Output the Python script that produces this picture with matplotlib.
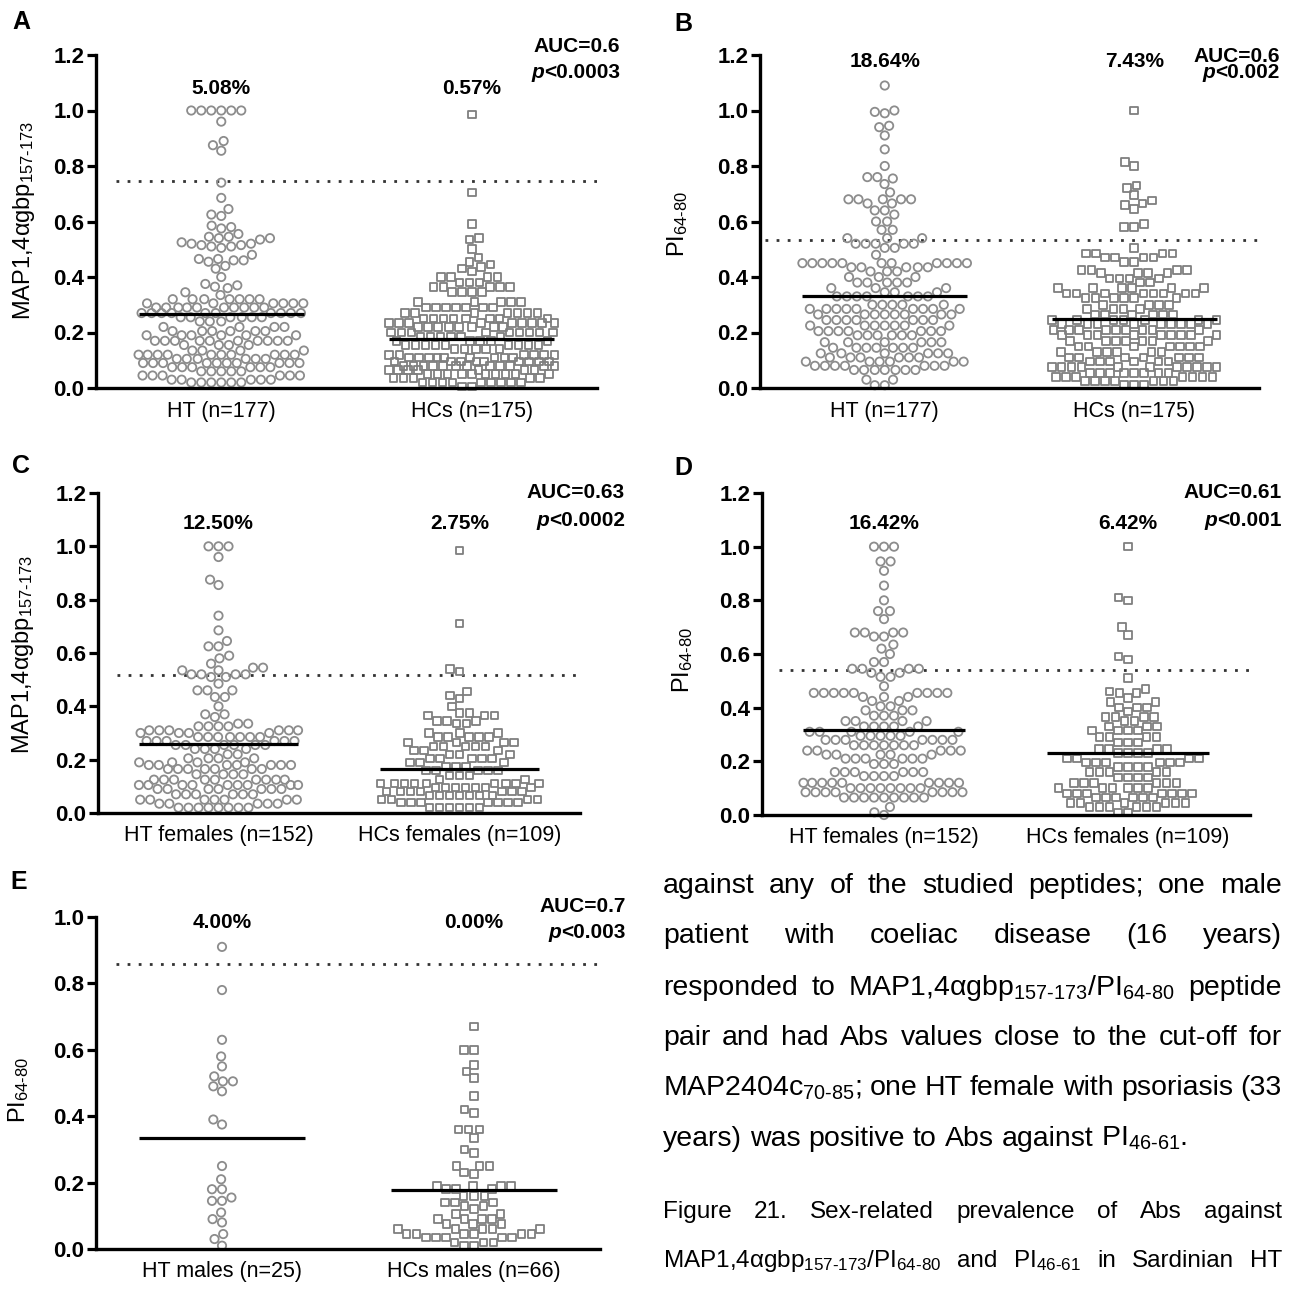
import numpy as np
import matplotlib.pyplot as plt

plt.rcParams['font.family'] = ['Liberation Sans', 'DejaVu Sans']
plt.rcParams['mathtext.fontset'] = 'custom'
plt.rcParams['mathtext.rm'] = 'Liberation Sans'
plt.rcParams['mathtext.it'] = 'Liberation Sans:italic'
plt.rcParams['mathtext.bf'] = 'Liberation Sans:bold'

W, H = 1294, 1290

# ---------------- values ----------------
# panel A : MAP1,4agbp157-173, all subjects
a_ht = [1.0, 1.0, 1.0, 1.0, 1.0, 1.0,
        0.96, 0.89, 0.875, 0.855, 0.74, 0.685, 0.645, 0.625, 0.62, 0.585, 0.58, 0.575,
        0.555, 0.545, 0.545, 0.54, 0.54, 0.535,
        0.525, 0.52, 0.52, 0.515, 0.515, 0.51, 0.51, 0.505,
        0.48, 0.465, 0.465, 0.46, 0.46, 0.455, 0.44, 0.43, 0.40,
        0.375, 0.37, 0.365, 0.36, 0.345, 0.335,
        0.32, 0.32, 0.32, 0.32, 0.32, 0.32, 0.32,
        0.305, 0.305, 0.305, 0.305, 0.305, 0.305,
        0.29, 0.29, 0.29, 0.29, 0.29, 0.29, 0.29, 0.29, 0.29, 0.29,
        0.27, 0.27, 0.27, 0.27, 0.27, 0.27, 0.27, 0.27, 0.27, 0.27,
        0.255, 0.255, 0.255, 0.255, 0.255, 0.255,
        0.24, 0.24, 0.24, 0.22, 0.22, 0.22, 0.22,
        0.205, 0.205, 0.205, 0.205, 0.205, 0.205,
        0.19, 0.19, 0.19, 0.19, 0.19, 0.19,
        0.17, 0.17, 0.17, 0.17, 0.17, 0.17, 0.17, 0.17, 0.17, 0.17,
        0.155, 0.155, 0.155, 0.155, 0.135, 0.135, 0.135, 0.135,
        0.12, 0.12, 0.12, 0.12, 0.12, 0.12, 0.12, 0.12, 0.12, 0.12,
        0.105, 0.105, 0.105, 0.105, 0.105, 0.105,
        0.09, 0.09, 0.09, 0.09, 0.09, 0.09, 0.09, 0.09, 0.09, 0.09,
        0.075, 0.075, 0.075, 0.075, 0.075, 0.075,
        0.06, 0.06, 0.06, 0.06, 0.06,
        0.045, 0.045, 0.045, 0.045, 0.045, 0.045,
        0.03, 0.03, 0.03, 0.03, 0.03,
        0.02, 0.02, 0.02, 0.02, 0.02, 0.02]
a_hc = [0.985, 0.705, 0.59, 0.54, 0.535, 0.50, 0.47, 0.455, 0.445, 0.435, 0.43, 0.42,
        0.40, 0.40, 0.40, 0.40, 0.38, 0.38, 0.38,
        0.365, 0.365, 0.365, 0.365, 0.365, 0.345, 0.345, 0.345, 0.345,
        0.31, 0.31, 0.31, 0.31, 0.31,
        0.29, 0.29, 0.29, 0.29, 0.29, 0.29, 0.29,
        0.27, 0.27, 0.27, 0.27, 0.27, 0.27, 0.27,
        0.25, 0.25, 0.25, 0.25, 0.25, 0.25, 0.25, 0.25,
        0.235, 0.235, 0.235, 0.235, 0.235, 0.235, 0.235, 0.235, 0.235,
        0.22, 0.22, 0.22, 0.22, 0.22, 0.22, 0.22, 0.22,
        0.20, 0.20, 0.20, 0.20, 0.20, 0.20, 0.20, 0.20, 0.20,
        0.185, 0.185, 0.185, 0.185, 0.185, 0.185,
        0.17, 0.17, 0.17, 0.17, 0.17,
        0.155, 0.155, 0.155, 0.155, 0.155, 0.155, 0.155, 0.155, 0.155,
        0.14, 0.14, 0.14, 0.14, 0.14,
        0.12, 0.12, 0.12, 0.12, 0.12, 0.12,
        0.11, 0.11, 0.11, 0.11, 0.11, 0.11, 0.11, 0.11, 0.11,
        0.095, 0.095, 0.095, 0.095, 0.095, 0.095, 0.095, 0.095, 0.095,
        0.08, 0.08, 0.08, 0.08, 0.08, 0.08, 0.08, 0.08, 0.08, 0.08, 0.08, 0.08,
        0.065, 0.065, 0.065, 0.065, 0.065, 0.065, 0.065,
        0.05, 0.05, 0.05, 0.05, 0.05, 0.05, 0.05, 0.05, 0.05, 0.05,
        0.035, 0.035, 0.035, 0.035, 0.035,
        0.02, 0.02, 0.02, 0.02, 0.02, 0.02, 0.02, 0.02, 0.02,
        0.005, 0.005]

# panel B : PI64-80, all subjects
b_ht = [1.09, 1.0, 0.995, 0.99, 0.945, 0.94, 0.91, 0.86, 0.80, 0.76, 0.76, 0.755, 0.735, 0.705,
        0.68, 0.68, 0.68, 0.68, 0.68, 0.665, 0.665, 0.64, 0.64, 0.625, 0.60, 0.60, 0.57, 0.57,
        0.54, 0.54, 0.54, 0.52, 0.52, 0.52, 0.52, 0.52, 0.505, 0.505, 0.48,
        0.45, 0.45, 0.45, 0.45, 0.45, 0.45, 0.45, 0.45, 0.45, 0.45, 0.45,
        0.435, 0.435, 0.435, 0.435, 0.435, 0.42, 0.42, 0.42, 0.40, 0.40, 0.40,
        0.38, 0.38, 0.38, 0.38, 0.38, 0.36, 0.36, 0.36, 0.345, 0.345, 0.345,
        0.33, 0.33, 0.33, 0.33, 0.33, 0.33, 0.33,
        0.30, 0.30, 0.30, 0.30, 0.30,
        0.285, 0.285, 0.285, 0.285, 0.285, 0.285, 0.285, 0.285, 0.285,
        0.265, 0.265, 0.265, 0.265, 0.265, 0.265, 0.265, 0.265,
        0.245, 0.245, 0.245, 0.245, 0.245, 0.245, 0.245,
        0.225, 0.225, 0.225, 0.225, 0.225, 0.225, 0.225,
        0.205, 0.205, 0.205, 0.205, 0.205, 0.205, 0.205,
        0.19, 0.19, 0.19, 0.19, 0.19, 0.19,
        0.165, 0.165, 0.165, 0.165, 0.165, 0.165,
        0.145, 0.145, 0.145, 0.145, 0.145, 0.145, 0.145,
        0.125, 0.125, 0.125, 0.125, 0.125, 0.125,
        0.11, 0.11, 0.11, 0.11, 0.11, 0.11,
        0.095, 0.095, 0.095, 0.095, 0.095, 0.095,
        0.08, 0.08, 0.08, 0.08, 0.08, 0.08, 0.08,
        0.065, 0.065, 0.065, 0.065, 0.065, 0.065, 0.065,
        0.03, 0.03, 0.01, 0.01]
b_hc = [1.0, 0.815, 0.80, 0.73, 0.72, 0.695, 0.675, 0.665, 0.66, 0.645, 0.59, 0.58, 0.58, 0.505,
        0.485, 0.485, 0.485, 0.485, 0.47, 0.47, 0.47, 0.47, 0.455, 0.455,
        0.425, 0.425, 0.425, 0.425, 0.415, 0.415, 0.415, 0.415,
        0.395, 0.395, 0.395, 0.395, 0.38, 0.38,
        0.36, 0.36, 0.36, 0.36, 0.36, 0.36,
        0.34, 0.34, 0.34, 0.34, 0.34, 0.34, 0.34, 0.34,
        0.325, 0.325, 0.325, 0.325, 0.325, 0.325,
        0.30, 0.30, 0.30, 0.30, 0.285, 0.285, 0.285, 0.285,
        0.265, 0.265, 0.265, 0.265, 0.265, 0.265,
        0.245, 0.245, 0.245, 0.245, 0.245, 0.245, 0.245,
        0.23, 0.23, 0.23, 0.23, 0.23, 0.23, 0.23, 0.23, 0.23,
        0.21, 0.21, 0.21, 0.21, 0.21, 0.21, 0.21, 0.21, 0.21,
        0.19, 0.19, 0.19, 0.19, 0.19, 0.19, 0.19, 0.19, 0.19,
        0.17, 0.17, 0.17, 0.17, 0.17, 0.17, 0.17,
        0.15, 0.15, 0.15, 0.15, 0.15, 0.15, 0.15,
        0.13, 0.13, 0.13, 0.13, 0.13, 0.13,
        0.11, 0.11, 0.11, 0.11, 0.11, 0.11, 0.11,
        0.095, 0.095, 0.095, 0.095, 0.095, 0.095,
        0.075, 0.075, 0.075, 0.075, 0.075, 0.075, 0.075, 0.075, 0.075, 0.075, 0.075,
        0.055, 0.055, 0.055, 0.055, 0.055, 0.055, 0.055, 0.055,
        0.04, 0.04, 0.04, 0.04, 0.04, 0.04, 0.04,
        0.025, 0.025, 0.025, 0.025, 0.025, 0.025, 0.025,
        0.01, 0.01, 0.01]

# panel C : MAP1,4agbp157-173, females
c_ht = [1.0, 1.0, 1.0, 0.96, 0.875, 0.855, 0.74, 0.685, 0.645, 0.625, 0.625, 0.59, 0.58,
        0.56, 0.545, 0.545, 0.535, 0.535,
        0.52, 0.52, 0.52, 0.52, 0.51, 0.51, 0.485, 0.46, 0.46, 0.46, 0.435, 0.435,
        0.40, 0.37, 0.37, 0.36,
        0.335, 0.335, 0.325, 0.325, 0.325, 0.325,
        0.31, 0.31, 0.31, 0.31, 0.31, 0.31, 0.30, 0.30, 0.30, 0.30,
        0.285, 0.285, 0.285, 0.285, 0.285, 0.285, 0.285,
        0.27, 0.27, 0.27, 0.27, 0.27, 0.27,
        0.255, 0.255, 0.255, 0.255, 0.255, 0.255,
        0.24, 0.24, 0.24, 0.24, 0.22, 0.22,
        0.205, 0.205, 0.205, 0.205, 0.19, 0.19, 0.19, 0.19,
        0.18, 0.18, 0.18, 0.18, 0.18, 0.18, 0.18,
        0.165, 0.165, 0.165, 0.165, 0.165, 0.165, 0.165,
        0.145, 0.145, 0.145, 0.145,
        0.125, 0.125, 0.125, 0.125, 0.125, 0.125, 0.125, 0.125, 0.125,
        0.105, 0.105, 0.105, 0.105, 0.105, 0.105, 0.105, 0.105, 0.105,
        0.09, 0.09, 0.09, 0.09, 0.09, 0.09, 0.09,
        0.07, 0.07, 0.07, 0.07, 0.07, 0.07,
        0.05, 0.05, 0.05, 0.05, 0.05, 0.05, 0.05,
        0.035, 0.035, 0.035, 0.035, 0.035,
        0.02, 0.02, 0.02, 0.02, 0.02, 0.02, 0.02, 0.02]
c_hc = [0.985, 0.71, 0.54, 0.53, 0.455, 0.44, 0.43, 0.40, 0.375, 0.375,
        0.365, 0.365, 0.365, 0.345, 0.345, 0.345, 0.335, 0.335,
        0.30, 0.30, 0.30, 0.285, 0.285, 0.285, 0.285, 0.285,
        0.265, 0.265, 0.265, 0.265, 0.25, 0.25, 0.25, 0.25, 0.25,
        0.235, 0.235, 0.235, 0.22, 0.22, 0.22,
        0.205, 0.205, 0.205, 0.205, 0.205, 0.19, 0.19, 0.19, 0.175, 0.175, 0.175,
        0.16, 0.16, 0.16, 0.16, 0.16, 0.14, 0.14, 0.14, 0.125, 0.125,
        0.11, 0.11, 0.11, 0.11, 0.11, 0.11, 0.11, 0.11, 0.11,
        0.095, 0.095, 0.095, 0.095, 0.095, 0.095, 0.095,
        0.08, 0.08, 0.08, 0.08, 0.08, 0.08, 0.08,
        0.065, 0.065, 0.065, 0.065, 0.065, 0.065, 0.065,
        0.05, 0.05, 0.05, 0.05,
        0.04, 0.04, 0.04, 0.04, 0.04, 0.04, 0.04,
        0.02, 0.02, 0.02, 0.02, 0.02, 0.02]

# panel D : PI64-80, females
d_ht = [1.0, 1.0, 1.0, 0.945, 0.945, 0.91, 0.855, 0.80, 0.76, 0.76, 0.73,
        0.68, 0.68, 0.68, 0.68, 0.665, 0.665, 0.635, 0.62, 0.60, 0.57, 0.57,
        0.545, 0.545, 0.545, 0.545, 0.53, 0.53, 0.515, 0.515, 0.48,
        0.455, 0.455, 0.455, 0.455, 0.455, 0.455, 0.455, 0.455, 0.455,
        0.44, 0.44, 0.44, 0.425, 0.425, 0.405, 0.405, 0.39, 0.39, 0.39,
        0.37, 0.37, 0.37, 0.35, 0.35, 0.35, 0.35,
        0.33, 0.33, 0.33, 0.33, 0.33, 0.31, 0.31, 0.31, 0.31, 0.31,
        0.295, 0.295, 0.295, 0.295, 0.295,
        0.28, 0.28, 0.28, 0.28, 0.28, 0.28, 0.28,
        0.26, 0.26, 0.26, 0.26, 0.26, 0.26, 0.26,
        0.24, 0.24, 0.24, 0.24, 0.24, 0.225, 0.225, 0.225, 0.225, 0.225,
        0.21, 0.21, 0.21, 0.21, 0.21, 0.21, 0.19, 0.19, 0.19,
        0.16, 0.16, 0.16, 0.16, 0.16, 0.16, 0.145, 0.145, 0.145, 0.145,
        0.12, 0.12, 0.12, 0.12, 0.12, 0.12, 0.12, 0.12, 0.12,
        0.10, 0.10, 0.10, 0.10, 0.10, 0.10, 0.10, 0.10,
        0.085, 0.085, 0.085, 0.085, 0.085, 0.085, 0.085, 0.085,
        0.065, 0.065, 0.065, 0.065, 0.065, 0.065, 0.065, 0.065, 0.065,
        0.03, 0.01, 0.0]
d_hc = [1.0, 0.81, 0.80, 0.70, 0.67, 0.59, 0.58, 0.51, 0.47, 0.46, 0.455, 0.455,
        0.435, 0.42, 0.42, 0.40, 0.40, 0.40, 0.385,
        0.365, 0.365, 0.365, 0.365, 0.35, 0.35, 0.33, 0.33, 0.33,
        0.315, 0.315, 0.315, 0.315, 0.29, 0.29, 0.29, 0.29, 0.27, 0.27, 0.27,
        0.245, 0.245, 0.245, 0.245, 0.23, 0.23, 0.23, 0.23,
        0.21, 0.21, 0.21, 0.21, 0.195, 0.195, 0.195, 0.195, 0.195, 0.195,
        0.18, 0.18, 0.18, 0.18, 0.16, 0.16, 0.16, 0.16, 0.16,
        0.14, 0.14, 0.14, 0.14, 0.12, 0.12, 0.12, 0.12, 0.12, 0.12,
        0.10, 0.10, 0.10, 0.10, 0.10, 0.10,
        0.08, 0.08, 0.08, 0.08, 0.08, 0.08, 0.08,
        0.065, 0.065, 0.065, 0.065, 0.065, 0.065,
        0.045, 0.045, 0.045, 0.045, 0.045, 0.045,
        0.03, 0.03, 0.03, 0.03, 0.03, 0.03, 0.01, 0.01]

# panel E : PI64-80, males
e_ht = [0.91, 0.78, 0.63, 0.58, 0.55, 0.52, 0.505, 0.505, 0.49, 0.475, 0.39, 0.375,
        0.25, 0.21, 0.18, 0.18, 0.155, 0.145, 0.145, 0.11, 0.09, 0.08, 0.045, 0.03, 0.01]
e_hc = [0.67, 0.60, 0.60, 0.555, 0.535, 0.515, 0.46, 0.42, 0.41, 0.36, 0.36, 0.36,
        0.335, 0.30, 0.29, 0.25, 0.25, 0.25, 0.23, 0.225,
        0.19, 0.19, 0.19, 0.19, 0.18, 0.18, 0.18, 0.16, 0.16, 0.16, 0.14, 0.14, 0.14,
        0.13, 0.13, 0.12, 0.105, 0.105, 0.09, 0.09, 0.09, 0.09, 0.075, 0.075, 0.075,
        0.06, 0.06, 0.06, 0.06, 0.06, 0.045, 0.045, 0.045, 0.045, 0.045, 0.045,
        0.035, 0.035, 0.035, 0.035, 0.035, 0.02, 0.02, 0.02, 0.01, 0.01]

letters = ['A', 'B', 'C', 'D', 'E']
groups = [a_ht, a_hc], [b_ht, b_hc], [c_ht, c_hc], [d_ht, d_hc], [e_ht, e_hc]
medians = [(0.268, 0.178), (0.33, 0.25), (0.257, 0.165), (0.315, 0.23), (0.334, 0.178)]
cutoffs = [0.745, 0.532, 0.519, 0.541, 0.858]
percents = [('5.08%', '0.57%'), ('18.64%', '7.43%'), ('12.50%', '2.75%'),
            ('16.42%', '6.42%'), ('4.00%', '0.00%')]
aucs = ['AUC=0.6', 'AUC=0.6', 'AUC=0.63', 'AUC=0.61', 'AUC=0.7']
pvals = ['<0.0003', '<0.002', '<0.0002', '<0.001', '<0.003']
xlabels = [('HT (n=177)', 'HCs (n=175)'), ('HT (n=177)', 'HCs (n=175)'),
           ('HT females (n=152)', 'HCs females (n=109)'),
           ('HT females (n=152)', 'HCs females (n=109)'),
           ('HT males (n=25)', 'HCs males (n=66)')]
HYP = '\u2010'
def sub(s):
    return r'$_{\mathregular{' + s.replace('-', HYP) + '}}$'
ylabels = ['MAP1,4\u03b1gbp' + sub('157-173'), 'PI' + sub('64-80'),
           'MAP1,4\u03b1gbp' + sub('157-173'), 'PI' + sub('64-80'), 'PI' + sub('64-80')]
ytops = [1.2, 1.2, 1.2, 1.2, 1.0]

# ---------------- layout (pixels of the 1294x1290 page) ----------------
rects = [(96, 55, 597, 388), (760, 55, 1259, 388), (98, 493, 580, 813),
         (762, 493, 1250, 815), (96, 917, 600, 1249)]
letter_pos = [(12, 22), (674, 24), (12, 466), (674, 468), (10, 882)]
ylab_pos = [(24, 221), (678, 224), (23, 655), (683, 660), (19, 1090)]
auc_pos = [(620, 47, 72), (1280, 56, 73), (625, 492, 520), (1282, 492, 520), (626, 907, 933)]
pct_y = [1.081, 1.178, 1.087, 1.085, 0.982]
cut_x0 = [0.58, 0.52, 0.58, 0.57, 0.58]

fig = plt.figure(figsize=(W / 100, H / 100), dpi=100)
rend = fig.canvas.get_renderer()


def fx(x):
    return x / W


def fy(y):
    return 1 - y / H


def swarm(ax, vals, xc, d, half):
    # greedy beeswarm in pixel space, squeezed into +-half (data units)
    vals = np.asarray(vals, float)
    tr = ax.transData.transform
    ys = tr(np.column_stack([np.full(len(vals), xc), vals]))[:, 1]
    xs = tr([[0, 0], [1, 0]])[:, 0]
    xscale = xs[1] - xs[0]
    cap = half * xscale
    order = np.argsort(vals, kind='stable')
    px, py = [], []
    off = np.zeros(len(vals))
    for i in order:
        y = ys[i]
        near = [(a, b) for a, b in zip(px, py) if abs(b - y) < d]
        cands = [0.0]
        for a, b in near:
            dx = np.sqrt(d * d - (b - y) ** 2)
            cands += [a - dx, a + dx]
        cands = [c for c in cands if abs(c) <= cap]
        cands.sort(key=abs)
        best = None
        for c in cands:
            if all((c - a) ** 2 + (y - b) ** 2 >= d * d - 1e-6 for a, b in near):
                best = c
                break
        if best is None:
            # no free slot inside the cap: take the least crowded one
            grid = list(np.linspace(-cap, cap, 25)) + cands
            best = max(grid, key=lambda c: min((c - a) ** 2 + (y - b) ** 2 for a, b in near))
        px.append(best)
        py.append(y)
        off[i] = best
    return xc + off / xscale


for k in range(5):
    l, t, r, b = rects[k]
    ax = fig.add_axes([fx(l), fy(b), (r - l) / W, (b - t) / H])
    ax.set_xlim(0.5, 2.5)
    ax.set_ylim(0, ytops[k])
    for s in ['top', 'right']:
        ax.spines[s].set_visible(False)
    for s in ['left', 'bottom']:
        ax.spines[s].set_linewidth(2.4)
    yt = np.round(np.arange(0, ytops[k] + 0.01, 0.2), 1)
    ax.set_yticks(yt)
    ax.set_yticklabels(['%.1f' % v for v in yt], fontweight='bold', fontsize=16)
    ax.tick_params(axis='y', length=6.5, width=2.3, pad=2)
    ax.set_xticks([1, 2])
    ax.set_xticklabels(xlabels[k], fontsize=15.5)
    ax.tick_params(axis='x', length=0, pad=9)

    ht, hc = groups[k]
    x1 = swarm(ax, ht, 1, 10.0, 0.33)
    x2 = swarm(ax, hc, 2, 10.0, 0.33)
    ax.scatter(x1, ht, s=36, marker='o', facecolors='none', edgecolors='#8c8c8c',
               linewidths=1.3, clip_on=False, zorder=2)
    ax.scatter(x2, hc, s=30, marker='s', facecolors='none', edgecolors='#7f7f7f',
               linewidths=1.3, clip_on=False, zorder=2)
    ax.hlines(medians[k][0], 1 - 0.33, 1 + 0.33, color='black', lw=2.3, zorder=3)
    ax.hlines(medians[k][1], 2 - 0.33, 2 + 0.33, color='black', lw=2.3, zorder=3)
    ax.plot([cut_x0[k], 2.5], [cutoffs[k]] * 2, color='#333333', lw=2,
            linestyle=(0, (1, 3)), zorder=1)

    ax.text(1, pct_y[k], percents[k][0], ha='center', va='center', fontsize=15,
            fontweight='bold', clip_on=False)
    ax.text(2, pct_y[k], percents[k][1], ha='center', va='center', fontsize=15,
            fontweight='bold', clip_on=False)

    fig.text(fx(letter_pos[k][0]), fy(letter_pos[k][1]), letters[k], fontsize=18,
             fontweight='bold', ha='left', va='center')
    fig.text(fx(ylab_pos[k][0]), fy(ylab_pos[k][1]), ylabels[k], fontsize=17,
             rotation=90, ha='center', va='center')

    ar, ay1, ay2 = auc_pos[k]
    fig.text(fx(ar), fy(ay1), aucs[k], fontsize=15, fontweight='bold',
             ha='right', va='center')
    tp = fig.text(fx(ar), fy(ay2), pvals[k], fontsize=15, fontweight='bold',
                  ha='right', va='center')
    bb = tp.get_window_extent(rend)
    fig.text(bb.x0 / W, fy(ay2), 'p', fontsize=15, fontweight='bold',
             fontstyle='italic', ha='right', va='center')

# ---------------- justified body text next to panel E ----------------
body = ['against any of the studied peptides; one male',
        'patient with coeliac disease (16 years)',
        'responded to MAP1,4\u03b1gbp' + sub('157-173') + '/PI' + sub('64-80') + ' peptide',
        'pair and had Abs values close to the cut-off for',
        'MAP2404c' + sub('70-85') + '; one HT female with psoriasis (33',
        'years) was positive to Abs against PI' + sub('46-61') + '.']
body_base = [893, 943, 995, 1045, 1095, 1146]
caption = ['Figure 21. Sex-related prevalence of Abs against',
           'MAP1,4\u03b1gbp' + sub('157-173') + '/PI' + sub('64-80') + ' and PI' + sub('46-61')
           + ' in Sardinian HT']
cap_base = [1218, 1267]


def justified(lines, bases, size, x0, x1, last_left):
    sp = 0.278 * size * 100 / 72
    for n, (line, yb) in enumerate(zip(lines, bases)):
        words = line.split(' ')
        ts = [fig.text(0, fy(yb), w, fontsize=size, ha='left', va='baseline') for w in words]
        ws = [t.get_window_extent(rend).width for t in ts]
        if last_left and n == len(lines) - 1:
            gap = sp
        else:
            gap = (x1 - x0 - sum(ws)) / (len(words) - 1)
        x = x0
        for t, w in zip(ts, ws):
            t.set_x(fx(x))
            x += w + gap


justified(body, body_base, 20.5, 663, 1282, True)
justified(caption, cap_base, 17.5, 663, 1282, False)

fig.savefig('out.png', dpi=100)
